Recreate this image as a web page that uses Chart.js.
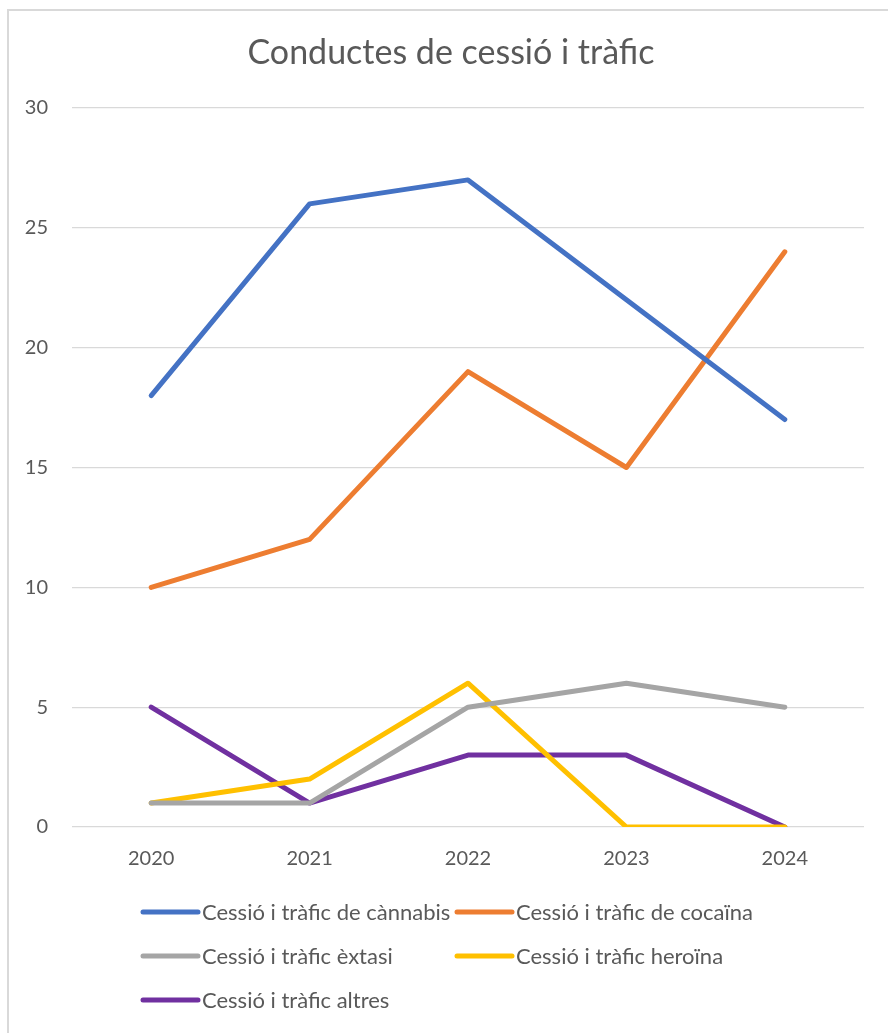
<!DOCTYPE html>
<html>
<head>
    <title>Conductes de cessió i tràfic</title>
    <script src="https://cdn.jsdelivr.net/npm/chart.js"></script>
    <style>
        html, body { margin: 0; padding: 0; overflow: hidden; background: #fff; }
        #wrap { position: relative; width: 888px; height: 1033px; }
        #frame { position: absolute; left: 7px; top: 9px; width: 950px; height: 1100px;
                 border-left: 2px solid #d9d9d9; border-top: 2px solid #d9d9d9; }
        #box { position: absolute; left: 0; top: 0; width: 888px; height: 1033px; }
    </style>
</head>
<body>
    <div id="wrap">
        <div id="frame"></div>
        <div id="box"><canvas id="myChart"></canvas></div>
    </div>

    <script>
        // dades llegides del gràfic
        const years = ['2020', '2021', '2022', '2023', '2024'];
        const cannabis = [18, 26, 27, 22, 17];
        const cocaina = [10, 12, 19, 15, 24];
        const extasi = [1, 1, 5, 6, 5];
        const heroina = [1, 2, 6, 0, 0];
        const altres = [5, 1, 3, 3, 0];
        const yTicks = [0, 5, 10, 15, 20, 25, 30];

        const textColor = '#595959';
        const fontFamily = 'Lato, "Open Sans", sans-serif';

        function serie(label, data, color) {
            return {
                label: label,
                data: data,
                borderColor: color,
                backgroundColor: color,
                borderWidth: 5,
                borderCapStyle: 'round',
                borderJoinStyle: 'round',
                pointRadius: 0,
                pointHoverRadius: 0,
                fill: false,
                tension: 0
            };
        }

        // titol i llegenda dibuixats a ma
        const extras = {
            id: 'extras',
            afterDraw(chart) {
                const ctx = chart.ctx;
                ctx.save();
                ctx.fillStyle = textColor;
                ctx.font = '34px ' + fontFamily;
                ctx.textAlign = 'center';
                ctx.textBaseline = 'middle';
                ctx.fillText('Conductes de cessió i tràfic', 451, 53);

                const x0 = 143, colStep = 314, rowY = [912, 956, 1000], lineLen = 55;
                ctx.font = '22px ' + fontFamily;
                ctx.textAlign = 'left';
                chart.data.datasets.forEach((ds, i) => {
                    const x = x0 + (i % 2) * colStep;
                    const y = rowY[Math.floor(i / 2)];
                    ctx.strokeStyle = ds.borderColor;
                    ctx.lineWidth = 5;
                    ctx.lineCap = 'round';
                    ctx.beginPath();
                    ctx.moveTo(x, y);
                    ctx.lineTo(x + lineLen, y);
                    ctx.stroke();
                    ctx.fillText(ds.label, x + lineLen + 4, y + 1);
                });
                ctx.restore();
            }
        };

        const ctx = document.getElementById('myChart').getContext('2d');
        new Chart(ctx, {
            type: 'line',
            data: {
                labels: years,
                datasets: [
                    serie('Cessió i tràfic de cànnabis', cannabis, '#4472C4'),
                    serie('Cessió i tràfic de cocaïna', cocaina, '#ED7D31'),
                    serie('Cessió i tràfic èxtasi', extasi, '#A5A5A5'),
                    serie('Cessió i tràfic heroïna', heroina, '#FFC000'),
                    serie('Cessió i tràfic altres', altres, '#7030A0')
                ]
            },
            options: {
                responsive: true,
                maintainAspectRatio: false,
                animation: false,
                layout: { padding: { top: 108, left: 0, right: 24, bottom: 146 } },
                plugins: {
                    legend: { display: false },
                    title: { display: false },
                    tooltip: { enabled: false }
                },
                scales: {
                    x: {
                        offset: true,
                        grid: { display: false, drawTicks: false },
                        border: { display: false },
                        ticks: { color: textColor, font: { family: fontFamily, size: 20 }, padding: 20 },
                        afterFit: s => { s.height = 60; }
                    },
                    y: {
                        min: 0,
                        max: 30,
                        afterBuildTicks: s => { s.ticks = yTicks.map(v => ({ value: v })); },
                        grid: { color: '#d9d9d9', lineWidth: 1.3, drawTicks: false },
                        border: { display: false },
                        ticks: { color: textColor, font: { family: fontFamily, size: 20 }, padding: 24 },
                        afterFit: s => { s.width = 72; }
                    }
                }
            },
            plugins: [extras]
        });
    </script>
</body>
</html>
